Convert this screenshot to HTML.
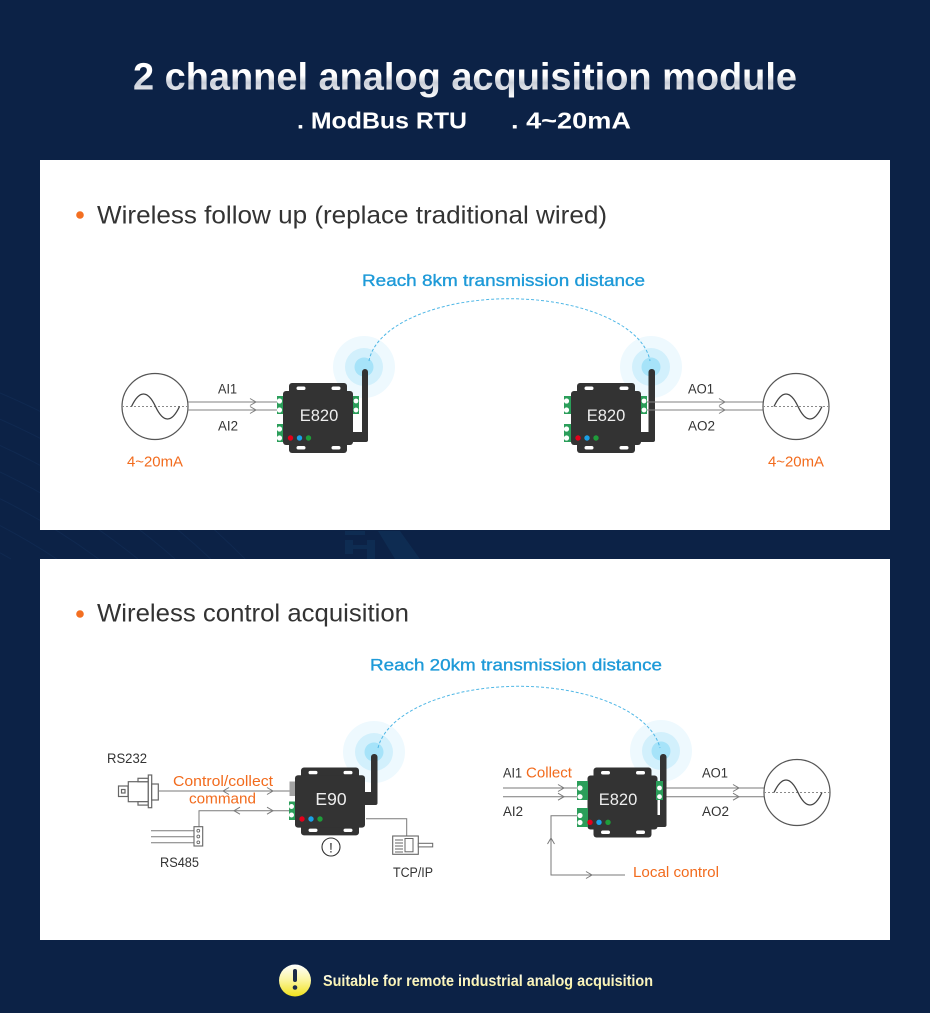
<!DOCTYPE html>
<html>
<head>
<meta charset="utf-8">
<style>
  html,body{margin:0;padding:0;background:#0c2246;width:930px;height:1013px;overflow:hidden;}
  svg{display:block;}
  text{font-family:"Liberation Sans",sans-serif;}
</style>
</head>
<body>
<svg width="930" height="1013" viewBox="0 0 930 1013" xmlns="http://www.w3.org/2000/svg">
  <defs>
    <linearGradient id="tg" x1="0" y1="0" x2="0" y2="1">
      <stop offset="0" stop-color="#ffffff"/>
      <stop offset="0.45" stop-color="#ffffff"/>
      <stop offset="0.62" stop-color="#c9ced8"/>
      <stop offset="1" stop-color="#ffffff"/>
    </linearGradient>
    <linearGradient id="yg" x1="0" y1="0" x2="0" y2="1">
      <stop offset="0" stop-color="#ffffff"/>
      <stop offset="0.45" stop-color="#fbf6a8"/>
      <stop offset="1" stop-color="#f1e21c"/>
    </linearGradient>
    <linearGradient id="ftg" x1="0" y1="0" x2="0" y2="1">
      <stop offset="0" stop-color="#fffef0"/>
      <stop offset="1" stop-color="#f6ec90"/>
    </linearGradient>
    <g id="dev">
      <rect x="6" y="0" width="58" height="70" rx="3" fill="#333333"/>
      <rect x="0" y="8" width="70" height="54" rx="3" fill="#333333"/>
      <rect x="13.5" y="3.5" width="9" height="3.5" rx="1.75" fill="#ffffff"/>
      <rect x="48.5" y="3.5" width="9" height="3.5" rx="1.75" fill="#ffffff"/>
      <rect x="13.5" y="63" width="9" height="3.5" rx="1.75" fill="#ffffff"/>
      <rect x="48.5" y="63" width="9" height="3.5" rx="1.75" fill="#ffffff"/>
    </g>
  </defs>

  <!-- background -->
  <rect x="0" y="0" width="930" height="1013" fill="#0c2246"/>
  <g fill="none" stroke="#14305a" stroke-width="1" opacity="0.5">
    <path d="M0,552.8 A624 624 0 0 1 11,559"/>
    <path d="M0,525.6 A648 648 0 0 1 56.7,559"/>
    <path d="M0,498.7 A672 672 0 0 1 98.6,559"/>
    <path d="M0,472 A696 696 0 0 1 137.9,559"/>
    <path d="M0,445.5 A720 720 0 0 1 175.1,559"/>
    <path d="M0,419.2 A744 744 0 0 1 210.7,559"/>
    <path d="M0,393 A768 768 0 0 1 245.1,559"/>
  </g>
  <g fill="#10345a" opacity="0.6">
    <rect x="345" y="531" width="20" height="4"/>
    <rect x="345" y="540" width="8" height="14"/>
    <rect x="345" y="545" width="30" height="4"/>
    <rect x="367" y="540" width="8" height="19"/>
    <polygon points="378,531 400,531 420,559 395,559"/>
  </g>

  <!-- title -->
  <text x="133" y="89.5" font-size="38" font-weight="bold" fill="url(#tg)" textLength="664" lengthAdjust="spacingAndGlyphs">2 channel analog acquisition module</text>
  <text x="297" y="128.5" font-size="23" font-weight="bold" fill="#ffffff" textLength="170" lengthAdjust="spacingAndGlyphs">. ModBus RTU</text>
  <text x="511" y="128.5" font-size="23" font-weight="bold" fill="#ffffff" textLength="120" lengthAdjust="spacingAndGlyphs">. 4~20mA</text>

  <!-- panels -->
  <rect x="40" y="160" width="850" height="370" fill="#ffffff"/>
  <rect x="40" y="559" width="850" height="381" fill="#ffffff"/>

  <!-- ============ PANEL 1 ============ -->
  <circle cx="80" cy="215" r="3.8" fill="#f36f21"/>
  <text x="97" y="223.5" font-size="25" fill="#333333" textLength="510" lengthAdjust="spacingAndGlyphs">Wireless follow up (replace traditional wired)</text>
  <text x="362" y="286" font-size="17" fill="#1e9ad8" stroke="#1e9ad8" stroke-width="0.35" textLength="283" lengthAdjust="spacingAndGlyphs">Reach 8km transmission distance</text>

  <!-- glows -->
  <circle cx="364" cy="367" r="31" fill="#eef9fe"/>
  <circle cx="364" cy="367" r="19" fill="#d2f0fc"/>
  <circle cx="364" cy="367" r="9.5" fill="#a6e3f9"/>
  <circle cx="651" cy="367" r="31" fill="#eef9fe"/>
  <circle cx="651" cy="367" r="19" fill="#d2f0fc"/>
  <circle cx="651" cy="367" r="9.5" fill="#a6e3f9"/>

  <path d="M369,361 A141 68 0 0 1 650,361" fill="none" stroke="#4fb7e6" stroke-width="1" stroke-dasharray="3,2"/>

  <!-- left circle source -->
  <circle cx="155" cy="406.5" r="33" fill="#ffffff" stroke="#555555" stroke-width="1.2"/>
  <path d="M122,406.5 H188" stroke="#8a8a8a" stroke-width="1" stroke-dasharray="2,2"/>
  <path d="M131.5,406.5 C135.5,398 139.5,394 143.5,394 C147.5,394 151.5,398 155.5,406.5 C159.5,415 163.5,419 167.5,419 C171.5,419 175.5,415 179.5,406.5" fill="none" stroke="#444444" stroke-width="1.3"/>
  <text x="127" y="466.5" font-size="15" fill="#f26b1d" textLength="56" lengthAdjust="spacingAndGlyphs">4~20mA</text>

  <!-- left lines -->
  <g stroke="#808080" stroke-width="1" fill="none">
    <path d="M188,402 H277"/>
    <path d="M188,410 H277"/>
    <path d="M250,398.5 L256,402 L250,405.5"/>
    <path d="M250,406.5 L256,410 L250,413.5"/>
  </g>
  <text x="218" y="393.5" font-size="13.5" fill="#333333" textLength="19" lengthAdjust="spacingAndGlyphs">AI1</text>
  <text x="218" y="430.5" font-size="13.5" fill="#333333" textLength="20" lengthAdjust="spacingAndGlyphs">AI2</text>

  <!-- left device -->
  <rect x="362" y="369" width="6" height="73" rx="3" fill="#333333"/>
  <rect x="350" y="432" width="18" height="10" rx="2" fill="#333333"/>
  <use href="#dev" transform="translate(283,383)"/>
  <rect x="277" y="396" width="6" height="18" fill="#2b9e5a"/>
  <circle cx="279.5" cy="401" r="2.6" fill="#ffffff"/>
  <circle cx="279.5" cy="410" r="2.6" fill="#ffffff"/>
  <rect x="277" y="424" width="6" height="18" fill="#2b9e5a"/>
  <circle cx="279.5" cy="429" r="2.6" fill="#ffffff"/>
  <circle cx="279.5" cy="438" r="2.6" fill="#ffffff"/>
  <rect x="353" y="396" width="6" height="18" fill="#2b9e5a"/>
  <circle cx="356" cy="401" r="2.4" fill="#ffffff"/>
  <circle cx="356" cy="410" r="2.4" fill="#ffffff"/>
  <circle cx="290.5" cy="438" r="2.7" fill="#e3001b"/>
  <circle cx="299.5" cy="438" r="2.7" fill="#1aa0e6"/>
  <circle cx="308.5" cy="438" r="2.7" fill="#1f9c3a"/>
  <text x="319" y="421" font-size="16.5" fill="#eeeeee" text-anchor="middle">E820</text>

  <!-- right device -->
  <rect x="648.5" y="369" width="6.5" height="73" rx="3" fill="#333333"/>
  <rect x="638" y="432" width="17" height="10" rx="2" fill="#333333"/>
  <use href="#dev" transform="translate(571,383)"/>
  <rect x="564" y="396" width="7" height="18" fill="#2b9e5a"/>
  <circle cx="566.5" cy="401" r="2.6" fill="#ffffff"/>
  <circle cx="566.5" cy="410" r="2.6" fill="#ffffff"/>
  <rect x="564" y="424" width="7" height="18" fill="#2b9e5a"/>
  <circle cx="566.5" cy="429" r="2.6" fill="#ffffff"/>
  <circle cx="566.5" cy="438" r="2.6" fill="#ffffff"/>
  <rect x="641" y="396" width="6" height="18" fill="#2b9e5a"/>
  <circle cx="644" cy="401" r="2.4" fill="#ffffff"/>
  <circle cx="644" cy="410" r="2.4" fill="#ffffff"/>
  <circle cx="578" cy="438" r="2.7" fill="#e3001b"/>
  <circle cx="587" cy="438" r="2.7" fill="#1aa0e6"/>
  <circle cx="596" cy="438" r="2.7" fill="#1f9c3a"/>
  <text x="606" y="421" font-size="16.5" fill="#eeeeee" text-anchor="middle">E820</text>

  <!-- right lines -->
  <g stroke="#808080" stroke-width="1" fill="none">
    <path d="M647,402 H763"/>
    <path d="M647,410 H763"/>
    <path d="M719,398.5 L725,402 L719,405.5"/>
    <path d="M719,406.5 L725,410 L719,413.5"/>
  </g>
  <text x="688" y="393.5" font-size="13.5" fill="#333333" textLength="26" lengthAdjust="spacingAndGlyphs">AO1</text>
  <text x="688" y="430.5" font-size="13.5" fill="#333333" textLength="27" lengthAdjust="spacingAndGlyphs">AO2</text>

  <!-- right circle -->
  <circle cx="796" cy="406.5" r="33" fill="#ffffff" stroke="#555555" stroke-width="1.2"/>
  <path d="M763,406.5 H829" stroke="#8a8a8a" stroke-width="1" stroke-dasharray="2,2"/>
  <path d="M774,406.5 C778,398 782,394 786,394 C790,394 794,398 798,406.5 C802,415 806,419 810,419 C814,419 818,415 822,406.5" fill="none" stroke="#444444" stroke-width="1.3"/>
  <text x="768" y="466.5" font-size="15" fill="#f26b1d" textLength="56" lengthAdjust="spacingAndGlyphs">4~20mA</text>

  <!-- ============ PANEL 2 ============ -->
  <circle cx="80" cy="614" r="3.8" fill="#f36f21"/>
  <text x="97" y="621.7" font-size="25" fill="#333333" textLength="312" lengthAdjust="spacingAndGlyphs">Wireless control acquisition</text>
  <text x="370" y="670.5" font-size="17" fill="#1e9ad8" stroke="#1e9ad8" stroke-width="0.35" textLength="292" lengthAdjust="spacingAndGlyphs">Reach 20km transmission distance</text>

  <circle cx="374" cy="752" r="31" fill="#eef9fe"/>
  <circle cx="374" cy="752" r="19" fill="#d2f0fc"/>
  <circle cx="374" cy="752" r="9.5" fill="#a6e3f9"/>
  <circle cx="661" cy="751" r="31" fill="#eef9fe"/>
  <circle cx="661" cy="751" r="19" fill="#d2f0fc"/>
  <circle cx="661" cy="751" r="9.5" fill="#a6e3f9"/>

  <path d="M378,748 A142 70 0 0 1 660,748" fill="none" stroke="#4fb7e6" stroke-width="1" stroke-dasharray="3,2"/>

  <!-- RS232 / RS485 -->
  <text x="107" y="763" font-size="13.5" fill="#333333" textLength="40" lengthAdjust="spacingAndGlyphs">RS232</text>
  <g fill="#ffffff" stroke="#666666" stroke-width="1.2">
    <rect x="118.5" y="786" width="9.5" height="10.5"/>
    <rect x="121.5" y="789.5" width="3.5" height="3.5"/>
    <rect x="128.3" y="781.7" width="20" height="20"/>
    <rect x="138" y="778.3" width="10.3" height="3.4"/>
    <rect x="138" y="801.7" width="10.3" height="3.4"/>
    <rect x="148.3" y="775" width="3.4" height="32.7"/>
    <rect x="151.7" y="784" width="6.6" height="16"/>
  </g>
  <g stroke="#7a7a7a" stroke-width="1" fill="none">
    <path d="M158.3,791 H289.5"/>
    <path d="M229,787.5 L223,791 L229,794.5"/>
    <path d="M267,787.5 L273,791 L267,794.5"/>
    <path d="M199,826.7 V810.7 H289"/>
    <path d="M240,807.2 L234,810.7 L240,814.2"/>
    <path d="M267,807.2 L273,810.7 L267,814.2"/>
    <path d="M151,830.7 H194"/>
    <path d="M151,836.7 H194"/>
    <path d="M151,842.7 H194"/>
  </g>
  <rect x="194" y="826.7" width="8.7" height="19.3" fill="#ffffff" stroke="#666666" stroke-width="1.1"/>
  <circle cx="198.3" cy="830.7" r="1.4" fill="none" stroke="#666" stroke-width="0.9"/>
  <circle cx="198.3" cy="836.5" r="1.4" fill="none" stroke="#666" stroke-width="0.9"/>
  <circle cx="198.3" cy="842.3" r="1.4" fill="none" stroke="#666" stroke-width="0.9"/>
  <text x="160" y="867" font-size="13.5" fill="#333333" textLength="39" lengthAdjust="spacingAndGlyphs">RS485</text>

  <text x="173" y="786" font-size="15" fill="#f26b1d" textLength="100" lengthAdjust="spacingAndGlyphs">Control/collect</text>
  <text x="189" y="803.5" font-size="15" fill="#f26b1d" textLength="67" lengthAdjust="spacingAndGlyphs">command</text>

  <!-- E90 device -->
  <rect x="371" y="754" width="6.5" height="51" rx="3" fill="#333333"/>
  <rect x="362" y="792" width="15.5" height="13" rx="2" fill="#333333"/>
  <use href="#dev" transform="translate(295,767.5) scale(1,0.97)"/>
  <rect x="289.5" y="781.5" width="5.5" height="14.5" fill="#a3a3a3"/>
  <rect x="289" y="801.5" width="6" height="18.5" fill="#2b9e5a"/>
  <circle cx="291.5" cy="806.5" r="2.5" fill="#ffffff"/>
  <circle cx="291.5" cy="815" r="2.5" fill="#ffffff"/>
  <circle cx="302" cy="819" r="2.7" fill="#e3001b"/>
  <circle cx="311" cy="819" r="2.7" fill="#1aa0e6"/>
  <circle cx="320" cy="819" r="2.7" fill="#1f9c3a"/>
  <text x="331" y="805" font-size="17.5" fill="#eeeeee" text-anchor="middle">E90</text>

  <circle cx="331" cy="847" r="9" fill="#ffffff" stroke="#333333" stroke-width="1.1"/>
  <text x="331" y="852.5" font-size="14" fill="#333333" text-anchor="middle">!</text>

  <!-- TCP/IP -->
  <path d="M366,818.7 H406.7 V836" fill="none" stroke="#7a7a7a" stroke-width="1"/>
  <rect x="392.7" y="836" width="25.6" height="18.3" fill="#ffffff" stroke="#666666" stroke-width="1.1"/>
  <rect x="405" y="838.5" width="8" height="13.3" fill="#ffffff" stroke="#666666" stroke-width="1"/>
  <g stroke="#666666" stroke-width="1">
    <path d="M395,840 H403"/>
    <path d="M395,843 H403"/>
    <path d="M395,846 H403"/>
    <path d="M395,849 H403"/>
    <path d="M395,852 H403"/>
  </g>
  <rect x="418.3" y="843.3" width="14.4" height="3.6" fill="#ffffff" stroke="#666666" stroke-width="1"/>
  <text x="393" y="877" font-size="13.5" fill="#333333" textLength="40" lengthAdjust="spacingAndGlyphs">TCP/IP</text>

  <!-- right E820 panel 2 -->
  <g stroke="#7a7a7a" stroke-width="1" fill="none">
    <path d="M503,788 H577"/>
    <path d="M503,796.7 H577"/>
    <path d="M558,784.5 L564,788 L558,791.5"/>
    <path d="M558,793.2 L564,796.7 L558,800.2"/>
    <path d="M577,815.7 H551 V875 H625"/>
    <path d="M547.5,844 L551,838 L554.5,844"/>
    <path d="M586,871.5 L592,875 L586,878.5"/>
    <path d="M663,788 H764"/>
    <path d="M663,796.7 H764"/>
    <path d="M733,784.5 L739,788 L733,791.5"/>
    <path d="M733,793.2 L739,796.7 L733,800.2"/>
  </g>
  <text x="503" y="777.5" font-size="13.5" fill="#333333" textLength="19" lengthAdjust="spacingAndGlyphs">AI1</text>
  <text x="526" y="777.5" font-size="15" fill="#f26b1d" textLength="46" lengthAdjust="spacingAndGlyphs">Collect</text>
  <text x="503" y="816" font-size="13.5" fill="#333333" textLength="20" lengthAdjust="spacingAndGlyphs">AI2</text>
  <text x="702" y="777.5" font-size="13.5" fill="#333333" textLength="26" lengthAdjust="spacingAndGlyphs">AO1</text>
  <text x="702" y="816" font-size="13.5" fill="#333333" textLength="27" lengthAdjust="spacingAndGlyphs">AO2</text>
  <text x="633" y="877" font-size="15" fill="#f26b1d" textLength="86" lengthAdjust="spacingAndGlyphs">Local control</text>

  <rect x="660" y="754" width="6.5" height="73" rx="3" fill="#333333"/>
  <rect x="652" y="815" width="14.5" height="12" rx="2" fill="#333333"/>
  <use href="#dev" transform="translate(587.5,767.5)"/>
  <rect x="577" y="781" width="11" height="19" fill="#2b9e5a"/>
  <circle cx="580" cy="788" r="2.6" fill="#ffffff"/>
  <circle cx="580" cy="796.7" r="2.6" fill="#ffffff"/>
  <rect x="577" y="808" width="11" height="19" fill="#2b9e5a"/>
  <circle cx="580" cy="815.5" r="2.6" fill="#ffffff"/>
  <circle cx="580" cy="822.5" r="2.6" fill="#ffffff"/>
  <rect x="656" y="781" width="7" height="19" fill="#2b9e5a"/>
  <circle cx="659.5" cy="788" r="2.4" fill="#ffffff"/>
  <circle cx="659.5" cy="796.7" r="2.4" fill="#ffffff"/>
  <circle cx="590" cy="822.3" r="2.7" fill="#e3001b"/>
  <circle cx="599" cy="822.3" r="2.7" fill="#1aa0e6"/>
  <circle cx="608" cy="822.3" r="2.7" fill="#1f9c3a"/>
  <text x="618" y="805" font-size="16.5" fill="#eeeeee" text-anchor="middle">E820</text>

  <circle cx="797" cy="792.5" r="33" fill="#ffffff" stroke="#555555" stroke-width="1.2"/>
  <path d="M764,792.5 H830" stroke="#8a8a8a" stroke-width="1" stroke-dasharray="2,2"/>
  <path d="M774,792.5 C778,784 782,780 786,780 C790,780 794,784 798,792.5 C802,801 806,805 810,805 C814,805 818,801 822,792.5" fill="none" stroke="#444444" stroke-width="1.3"/>

  <!-- footer -->
  <circle cx="295" cy="980.5" r="16" fill="url(#yg)"/>
  <rect x="293" y="969" width="4" height="13" rx="2" fill="#1b2a48"/>
  <circle cx="295" cy="987.5" r="2.3" fill="#1b2a48"/>
  <text x="323" y="986" font-size="16" font-weight="bold" fill="url(#ftg)" textLength="330" lengthAdjust="spacingAndGlyphs">Suitable for remote industrial analog acquisition</text>
</svg>
</body>
</html>
